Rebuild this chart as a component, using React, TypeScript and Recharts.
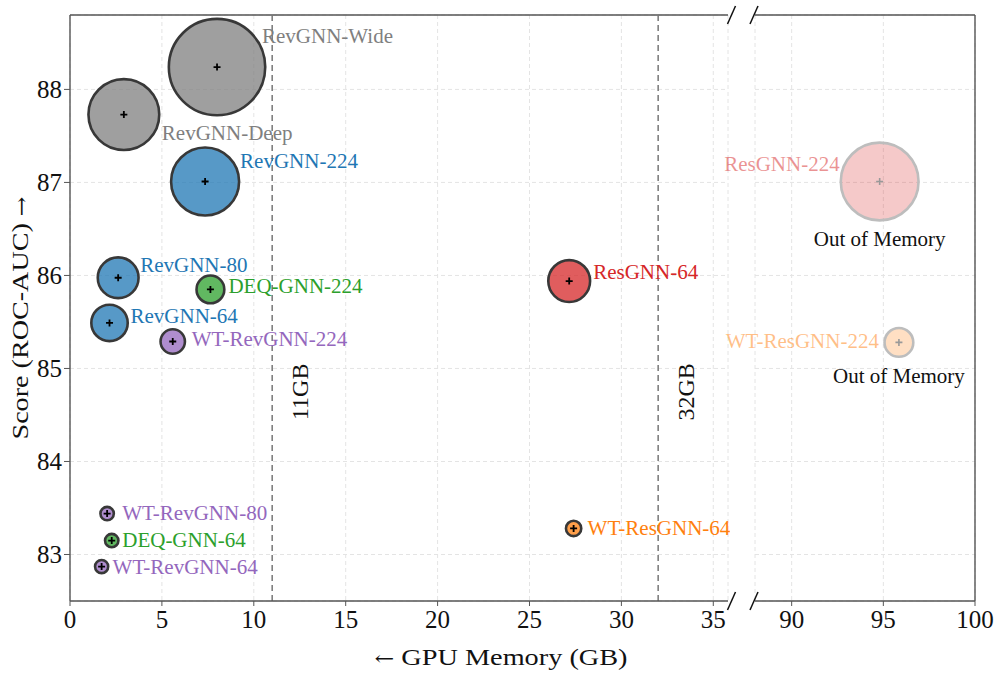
import React from 'react';
import {
  ScatterChart,
  Scatter,
  XAxis,
  YAxis,
  ZAxis,
  CartesianGrid,
  ReferenceLine
} from 'recharts';

// --- data ---
const models = [
  'RevGNN-Wide', 'RevGNN-Deep', 'RevGNN-224', 'RevGNN-80', 'RevGNN-64',
  'DEQ-GNN-224', 'WT-RevGNN-224', 'ResGNN-64', 'ResGNN-224', 'WT-ResGNN-224',
  'WT-RevGNN-80', 'DEQ-GNN-64', 'WT-RevGNN-64', 'WT-ResGNN-64'
];
const memoryGB = [8.0, 2.93, 7.35, 2.62, 2.15, 7.64, 5.59, 27.16, 94.8, 95.85, 2.02, 2.27, 1.72, 27.4];
const rocAuc = [88.24, 87.73, 87.01, 85.975, 85.49, 85.85, 85.29, 85.94, 87.01, 85.28, 83.44, 83.15, 82.87, 83.28];
const bubbleSize = [2450, 1347, 1246, 471, 380, 231, 182, 493, 1616, 246, 64, 64, 62, 80];
const family = [
  'gray', 'gray', 'blue', 'blue', 'blue', 'green', 'purple', 'red', 'red', 'orange',
  'purple', 'green', 'purple', 'orange'
];
const outOfMemory = [false, false, false, false, false, false, false, false, true, true, false, false, false, false];

const leftXTicks = [0, 5, 10, 15, 20, 25, 30, 35];
const rightXTicks = [90, 95, 100];
const yTicks = [83, 84, 85, 86, 87, 88];
const gpuLimits = [11, 32];
const gpuLimitLabels = ['11GB', '32GB'];

// --- styling ---
const FONT = "'Liberation Serif', 'Times New Roman', serif";
const ARROW_FONT = "'DejaVu Serif', serif";
const LEFT_DOMAIN: [number, number] = [0, 35.8];
const RIGHT_DOMAIN: [number, number] = [88, 100];
const Y_DOMAIN: [number, number] = [82.5, 88.8];
const SPINE = '#555';

const palette: Record<string, string> = {
  gray: '#7f7f7f',
  blue: '#1f77b4',
  green: '#2ca02c',
  purple: '#9467bd',
  red: '#d62728',
  orange: '#ff7f0e'
};

// label offsets from bubble centre, in px
const labelPlacement: Record<string, { dx: number; dy: number; anchor?: string; oomDx?: number; oomDy?: number }> = {
  'RevGNN-Wide': { dx: 45, dy: -31 },
  'RevGNN-Deep': { dx: 38, dy: 19 },
  'RevGNN-224': { dx: 35, dy: -20 },
  'RevGNN-80': { dx: 22, dy: -13 },
  'RevGNN-64': { dx: 21, dy: -7 },
  'DEQ-GNN-224': { dx: 18, dy: -3 },
  'WT-RevGNN-224': { dx: 19, dy: -2 },
  'ResGNN-64': { dx: 24, dy: -9 },
  'ResGNN-224': { dx: -40, dy: -17, anchor: 'end', oomDx: 0, oomDy: 58 },
  'WT-ResGNN-224': { dx: -20, dy: -1, anchor: 'end', oomDx: 0, oomDy: 34 },
  'WT-RevGNN-80': { dx: 15, dy: 0 },
  'DEQ-GNN-64': { dx: 10.5, dy: 0 },
  'WT-RevGNN-64': { dx: 11, dy: 0 },
  'WT-ResGNN-64': { dx: 14, dy: 0 }
};

const rows = models.map((name, i) => ({
  name,
  x: memoryGB[i],
  y: rocAuc[i],
  z: bubbleSize[i],
  color: palette[family[i]],
  oom: outOfMemory[i]
}));
const leftRows = rows.filter(r => r.x <= LEFT_DOMAIN[1]);
const rightRows = rows.filter(r => r.x >= RIGHT_DOMAIN[0]);

const Bubble = (props: any) => {
  const { cx, cy, width, payload } = props;
  const r = Math.max(width / 2 - 1.3, 2);
  const arm = 3.5;
  if (payload.oom) {
    return (
      <g>
        <circle cx={cx} cy={cy} r={r} fill={payload.color} fillOpacity={0.25} stroke="#bdbdbd" strokeWidth={2.6} />
        <path d={`M${cx - arm},${cy}H${cx + arm}M${cx},${cy - arm}V${cy + arm}`} stroke="#999" strokeWidth={1.6} />
      </g>
    );
  }
  return (
    <g>
      <circle cx={cx} cy={cy} r={r} fill={payload.color} fillOpacity={0.75} stroke="#383838" strokeWidth={2.6} />
      <path d={`M${cx - arm},${cy}H${cx + arm}M${cx},${cy - arm}V${cy + arm}`} stroke="#000" strokeWidth={1.8} />
    </g>
  );
};

const BubbleLabel = (props: any) => {
  const { cx, cy, payload } = props;
  const place = labelPlacement[payload.name];
  return (
    <g>
      <text
        x={cx + place.dx}
        y={cy + place.dy}
        dy="0.33em"
        textAnchor={place.anchor || 'start'}
        fill={payload.color}
        fillOpacity={payload.oom ? 0.5 : 1}
        fontSize={21}
        fontFamily={FONT}
      >
        {payload.name}
      </text>
      {payload.oom && (
        <text
          x={cx + (place.oomDx || 0)}
          y={cy + (place.oomDy || 0)}
          dy="0.33em"
          textAnchor="middle"
          fill="#111"
          fontSize={21}
          fontFamily={FONT}
        >
          Out of Memory
        </text>
      )}
    </g>
  );
};

const limitLabel = (text: string) => (props: any) => {
  const { viewBox } = props;
  const x = viewBox.x + 27;
  const y = viewBox.y + viewBox.height * 0.643;
  return (
    <text
      x={x}
      y={y}
      transform={`rotate(-90, ${x}, ${y})`}
      textAnchor="middle"
      dy="0.35em"
      fontSize={24}
      fontFamily={FONT}
      fill="#111"
    >
      {text}
    </text>
  );
};

const tickStyle = { fontSize: 25, fill: '#111', fontFamily: FONT };

const MemoryScoreChart = () => {
  return (
    <div style={{ position: 'absolute', left: 0, top: 0, width: 999, height: 683, background: '#fff' }}>
      {/* left panel: 0 - 36 GB */}
      <div style={{ position: 'absolute', left: 0, top: 0 }}>
        <ScatterChart width={730} height={683} margin={{ top: 15, right: 2, bottom: 42, left: 0 }}>
          <CartesianGrid stroke="#e4e4e4" strokeDasharray="4 3" />
          <XAxis
            type="number"
            dataKey="x"
            domain={LEFT_DOMAIN}
            ticks={leftXTicks}
            height={40}
            tick={tickStyle}
            tickSize={5}
            tickMargin={4}
            tickLine={{ stroke: SPINE }}
            axisLine={{ stroke: SPINE, strokeWidth: 1.4 }}
          />
          <YAxis
            type="number"
            dataKey="y"
            domain={Y_DOMAIN}
            ticks={yTicks}
            width={70}
            tick={tickStyle}
            tickSize={6}
            tickMargin={2}
            tickLine={{ stroke: SPINE }}
            axisLine={{ stroke: SPINE, strokeWidth: 1.4 }}
          />
          <ZAxis type="number" dataKey="z" domain={[0, 2500]} range={[0, 2500 * Math.PI]} />
          <ReferenceLine y={Y_DOMAIN[1]} stroke={SPINE} strokeWidth={1.4} />
          {gpuLimits.map((gb, i) => (
            <ReferenceLine
              key={gb}
              x={gb}
              stroke="#777"
              strokeWidth={1.5}
              strokeDasharray="6 4"
              label={limitLabel(gpuLimitLabels[i])}
            />
          ))}
          <Scatter data={leftRows} shape={Bubble} isAnimationActive={false} legendType="none" />
          <Scatter data={leftRows} shape={BubbleLabel} isAnimationActive={false} legendType="none" />
        </ScatterChart>
      </div>

      {/* right panel: 88 - 100 GB */}
      <div style={{ position: 'absolute', left: 700, top: 0 }}>
        <ScatterChart width={299} height={683} margin={{ top: 15, right: 24, bottom: 42, left: 55 }}>
          <CartesianGrid stroke="#e4e4e4" strokeDasharray="4 3" />
          <XAxis
            type="number"
            dataKey="x"
            domain={RIGHT_DOMAIN}
            ticks={rightXTicks}
            height={40}
            tick={tickStyle}
            tickSize={5}
            tickMargin={4}
            tickLine={{ stroke: SPINE }}
            axisLine={{ stroke: SPINE, strokeWidth: 1.4 }}
          />
          <YAxis type="number" dataKey="y" domain={Y_DOMAIN} ticks={yTicks} hide width={0} />
          <ZAxis type="number" dataKey="z" domain={[0, 2500]} range={[0, 2500 * Math.PI]} />
          <ReferenceLine y={Y_DOMAIN[1]} stroke={SPINE} strokeWidth={1.4} />
          <ReferenceLine x={RIGHT_DOMAIN[1]} stroke={SPINE} strokeWidth={1.4} />
          <Scatter data={rightRows} shape={Bubble} isAnimationActive={false} legendType="none" />
          <Scatter data={rightRows} shape={BubbleLabel} isAnimationActive={false} legendType="none" />
        </ScatterChart>
      </div>

      {/* axis titles and break marks */}
      <svg
        width={999}
        height={683}
        style={{ position: 'absolute', left: 0, top: 0, pointerEvents: 'none' }}
      >
        <text
          x={20}
          y={318}
          transform="rotate(-90, 20, 318)"
          textAnchor="middle"
          dy="0.35em"
          fontSize={24}
          fontFamily={FONT}
          fill="#111"
          textLength={243}
          lengthAdjust="spacingAndGlyphs"
        >
          Score (ROC-AUC) <tspan fontFamily={ARROW_FONT} fontSize={20}>→</tspan>
        </text>
        <text
          x={501}
          y={657}
          textAnchor="middle"
          dy="0.35em"
          fontSize={24}
          fontFamily={FONT}
          fill="#111"
          textLength={253}
          lengthAdjust="spacingAndGlyphs"
        >
          <tspan fontFamily={ARROW_FONT} fontSize={20}>←</tspan> GPU Memory (GB)
        </text>
        {[15, 601].map(y => (
          <g key={y} stroke="#111" strokeWidth={1.5}>
            <line x1={727.5} y1={y + 9} x2={735.5} y2={y - 9} />
            <line x1={750} y1={y + 9} x2={758} y2={y - 9} />
          </g>
        ))}
      </svg>
    </div>
  );
};

export default function App() {
  return <MemoryScoreChart />;
}
